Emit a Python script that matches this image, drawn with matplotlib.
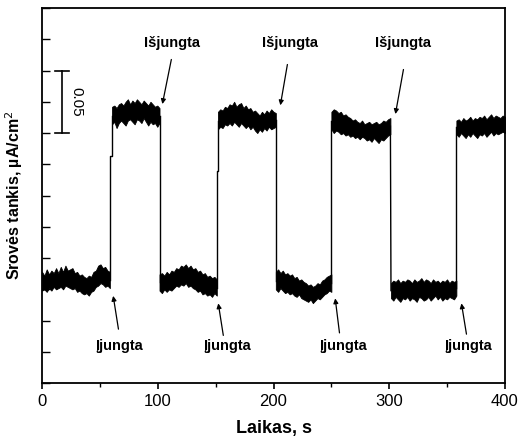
import numpy as np
import matplotlib
matplotlib.use("Agg")
import matplotlib.pyplot as plt
from matplotlib.ticker import MultipleLocator

plt.rcParams['font.family'] = ['Liberation Sans', 'DejaVu Sans']

# plateau segments (light off / on), time in s, current density in uA/cm2
seg_start = [0, 60.5, 101.5, 152, 202, 250, 301.5, 358]
seg_end = [58.6, 101.5, 151, 202, 250, 301, 358, 400]

# upper and lower edges of the noisy trace
band_top = [
    [.089, .086, .091, .087, .090, .088, .092, .088, .093, .089, .094, .090, .091, .092, .088,
     .089, .086, .087, .085, .084, .086, .085, .089, .090, .094, .095, .092, .093, .090, .089],
    [.221, .222, .220, .223, .224, .222, .225, .227, .223, .226, .224, .227, .225, .223, .226,
     .224, .222, .225, .223, .221, .222, .220],
    [.087, .088, .086, .089, .087, .090, .089, .092, .091, .094, .093, .095, .092, .094, .091,
     .092, .089, .090, .087, .088, .085, .086, .084, .085, .083],
    [.217, .219, .218, .221, .220, .223, .222, .225, .221, .223, .224, .220, .222, .219, .220,
     .217, .218, .216, .214, .217, .215, .218, .216, .219, .217, .216],
    [.089, .091, .088, .090, .087, .088, .086, .087, .084, .085, .082, .083, .081, .080, .078,
     .079, .077, .078, .080, .079, .082, .083, .085, .086, .087],
    [.217, .219, .218, .216, .217, .214, .215, .213, .212, .210, .211, .209, .208, .210, .207,
     .208, .209, .207, .208, .209, .207, .208, .210, .209, .211, .212],
    [.080, .082, .081, .083, .080, .082, .081, .083, .082, .080, .083, .081, .082, .084, .081,
     .083, .082, .080, .083, .081, .082, .080, .082, .081, .083, .080, .082, .081, .082],
    [.210, .211, .209, .212, .210, .211, .213, .210, .212, .211, .213, .212, .214, .211, .213,
     .215, .212, .214, .213, .212, .214, .213],
]
band_bottom = [
    [.074, .075, .073, .076, .074, .077, .075, .076, .077, .075, .078, .077, .076, .075, .076,
     .073, .074, .072, .071, .072, .070, .073, .074, .077, .078, .080, .079, .077, .078, .076],
    [.207, .209, .204, .208, .210, .208, .206, .210, .211, .209, .207, .211, .210, .208, .212,
     .209, .206, .209, .207, .208, .205, .208],
    [.074, .072, .075, .073, .075, .074, .076, .078, .077, .079, .078, .080, .077, .078, .076,
     .075, .073, .074, .071, .072, .070, .071, .069, .072, .070],
    [.203, .205, .204, .207, .206, .208, .206, .209, .207, .205, .208, .206, .204, .206, .203,
     .205, .202, .200, .203, .201, .204, .202, .205, .203, .204, .205],
    [.075, .073, .076, .074, .072, .073, .071, .072, .070, .069, .071, .068, .067, .066, .065,
     .067, .064, .066, .068, .067, .069, .071, .072, .074, .073],
    [.203, .200, .202, .201, .199, .200, .198, .199, .197, .198, .196, .197, .195, .197, .196,
     .194, .195, .193, .196, .194, .192, .195, .194, .196, .198, .199],
    [.068, .066, .069, .067, .065, .068, .067, .069, .066, .068, .067, .065, .069, .068, .066,
     .067, .069, .066, .068, .070, .067, .069, .066, .068, .067, .069, .068, .067, .070],
    [.199, .197, .200, .198, .196, .199, .197, .200, .198, .196, .199, .198, .200, .197, .199,
     .201, .198, .200, .199, .200, .201, .200],
]
# short intermediate level seen right after the first two switch-ons
partial_level = [None, 0.182, None, 0.170, None, None, None, None]

off_labels_t = [112.2, 214, 311.8]
on_labels_t = [66.4, 159.7, 259.9, 368]

fig = plt.figure(figsize=(5.19, 4.44), dpi=100)
ax = fig.add_axes([0.081, 0.137, 0.892, 0.845])

for i in range(len(seg_start)):
    t = np.linspace(seg_start[i], seg_end[i], len(band_top[i]))
    ax.fill_between(t, band_bottom[i], band_top[i], color='k', lw=0.6, edgecolor='k')

# vertical switching edges
for i in range(len(seg_start) - 1):
    y0 = (band_top[i][-1] + band_bottom[i][-1]) / 2
    y1 = (band_top[i + 1][0] + band_bottom[i + 1][0]) / 2
    t0, t1 = seg_end[i], seg_start[i + 1]
    if partial_level[i + 1] is not None:
        ax.plot([t0, t0, t1, t1], [y0, partial_level[i + 1], partial_level[i + 1], y1], 'k-', lw=1)
    else:
        ax.plot([t0, t1], [y0, y1], 'k-', lw=1)

# annotations
fs = 10.5
off_xy = [((112.2, 0.261), (103.5, 0.221)), ((212.4, 0.257), (205.5, 0.220)),
          ((312.7, 0.253), (304.9, 0.213))]
for tx, (tail, head) in zip(off_labels_t, off_xy):
    ax.text(tx, 0.272, 'Išjungta', ha='center', va='center', fontsize=fs, fontweight='bold')
    ax.annotate('', xy=head, xytext=tail,
                arrowprops=dict(arrowstyle='-|>', color='k', lw=0.9, mutation_scale=7))
on_xy = [((66.4, 0.041), (61.1, 0.072)), ((157.0, 0.036), (151.9, 0.066)),
         ((257.3, 0.038), (253.0, 0.070)), ((367.1, 0.037), (362.0, 0.066))]
for tx, (tail, head) in zip(on_labels_t, on_xy):
    ax.text(tx, 0.030, 'Įjungta', ha='center', va='center', fontsize=fs, fontweight='bold')
    ax.annotate('', xy=head, xytext=tail,
                arrowprops=dict(arrowstyle='-|>', color='k', lw=0.9, mutation_scale=7))

# 0.05 scale bar
ax.plot([17, 17], [0.200, 0.250], 'k-', lw=1.2)
ax.plot([11, 23], [0.200, 0.200], 'k-', lw=1.2)
ax.plot([11, 23], [0.250, 0.250], 'k-', lw=1.2)
ax.text(30, 0.225, '0.05', rotation=270, ha='center', va='center', fontsize=11)

ax.set_xlim(0, 400)
ax.set_ylim(0, 0.3)
ax.xaxis.set_major_locator(MultipleLocator(100))
ax.xaxis.set_minor_locator(MultipleLocator(50))
ax.yaxis.set_major_locator(MultipleLocator(0.025))
ax.set_yticklabels([])
ax.tick_params(axis='x', which='major', direction='out', length=4, width=1.2, labelsize=12)
ax.tick_params(axis='x', which='minor', direction='out', length=3, width=1.0)
ax.tick_params(axis='y', direction='in', length=6, width=1.0)
for s in ax.spines.values():
    s.set_linewidth(1.3)

ax.set_xlabel('Laikas, s', fontsize=13, fontweight='bold', labelpad=8)
ax.set_ylabel('Srovės tankis, µA/cm$^2$', fontsize=11.5, fontweight='bold', labelpad=9)

fig.savefig('out.png', dpi=100)
